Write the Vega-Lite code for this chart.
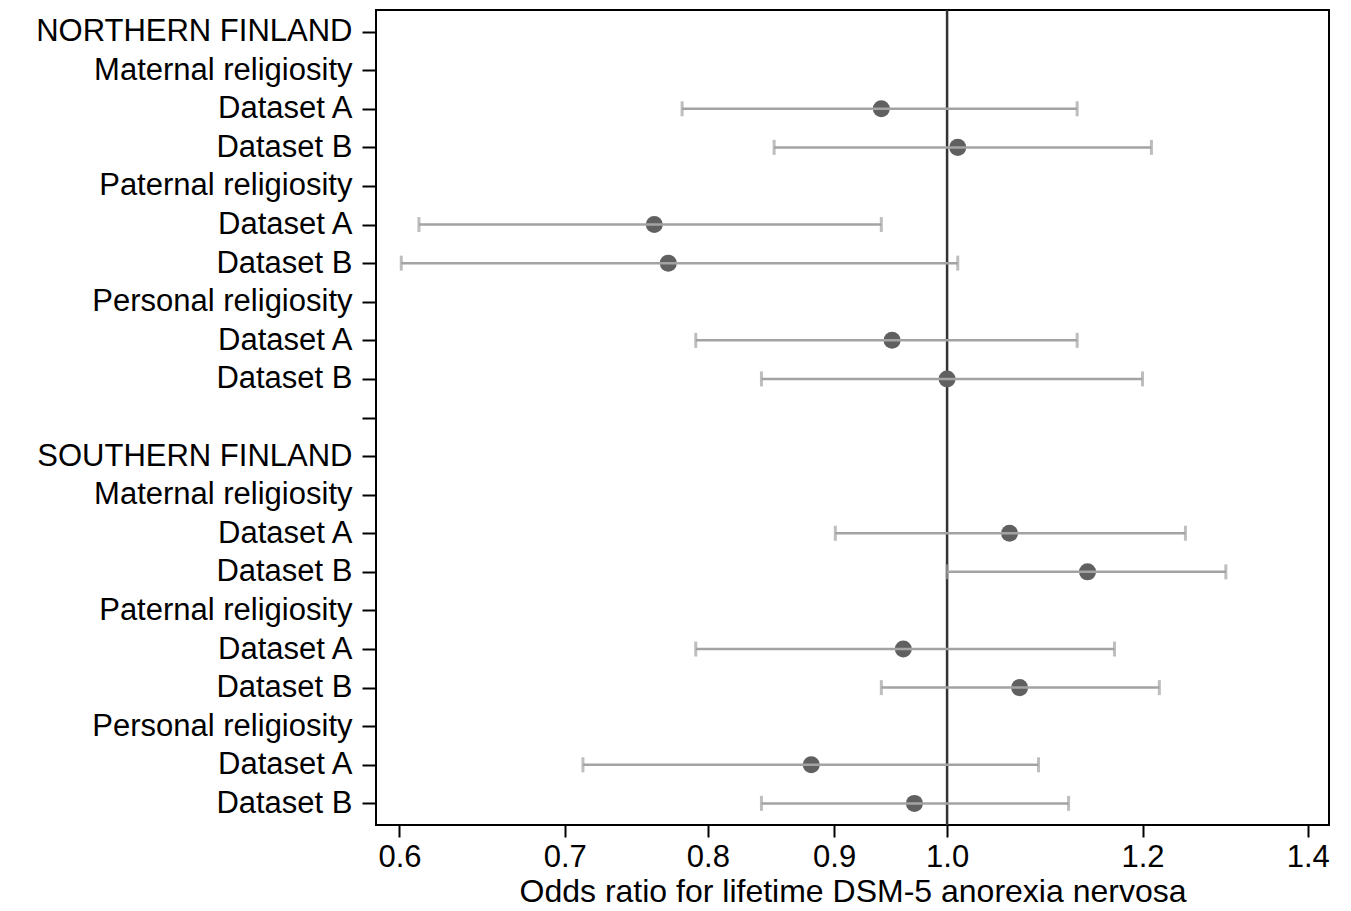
{
  "$schema": "https://vega.github.io/schema/vega-lite/v6.json",
  "width": 953,
  "height": 815,
  "padding": {"left": 0, "top": 8, "right": 22, "bottom": 0},
  "background": "white",
  "config": {
    "view": {"stroke": "#000000", "strokeWidth": 2},
    "font": "Liberation Sans"
  },
  "data": {
    "values": [
      {"row": 2, "or": 0.9405, "lo": 0.781, "hi": 1.129},
      {"row": 3, "or": 1.010, "lo": 0.851, "hi": 1.210},
      {"row": 5, "or": 0.761, "lo": 0.611, "hi": 0.9405},
      {"row": 6, "or": 0.771, "lo": 0.601, "hi": 1.010},
      {"row": 8, "or": 0.950, "lo": 0.791, "hi": 1.129},
      {"row": 9, "or": 1.000, "lo": 0.841, "hi": 1.200},
      {"row": 13, "or": 1.060, "lo": 0.901, "hi": 1.249},
      {"row": 14, "or": 1.140, "lo": 1.000, "hi": 1.297},
      {"row": 16, "or": 0.960, "lo": 0.791, "hi": 1.169},
      {"row": 17, "or": 1.070, "lo": 0.9405, "hi": 1.219},
      {"row": 19, "or": 0.881, "lo": 0.712, "hi": 1.089},
      {"row": 20, "or": 0.970, "lo": 0.841, "hi": 1.120}
    ]
  },
  "layer": [
    {
      "data": {"values": [{"ref": 1}]},
      "mark": {"type": "rule", "color": "#333333", "strokeWidth": 2.5},
      "encoding": {
        "x": {
          "field": "ref",
          "type": "quantitative",
          "scale": {"type": "log", "domain": [0.587, 1.428], "nice": false, "zero": false},
          "axis": {
            "values": [0.6, 0.7, 0.8, 0.9, 1.0, 1.2, 1.4],
            "format": ".1f",
            "labelFontSize": 31,
            "labelColor": "#000000",
            "labelFlush": false,
            "labelPadding": 5,
            "tickSize": 12,
            "tickWidth": 2,
            "tickColor": "#000000",
            "domain": false,
            "grid": false,
            "title": "Odds ratio for lifetime DSM-5 anorexia nervosa",
            "titleFontSize": 32,
            "titleFontWeight": "normal",
            "titleColor": "#000000",
            "titlePadding": 4
          }
        }
      }
    },
    {
      "mark": {"type": "circle", "color": "#606060", "opacity": 1, "size": 290},
      "encoding": {
        "x": {"field": "or", "type": "quantitative", "scale": {"type": "log", "domain": [0.587, 1.428], "nice": false, "zero": false}},
        "y": {
          "field": "row",
          "type": "ordinal",
          "scale": {"type": "point", "domain": [0,1,2,3,4,5,6,7,8,9,10,11,12,13,14,15,16,17,18,19,20], "padding": 0.56},
          "axis": {
            "labelExpr": "['NORTHERN FINLAND','Maternal religiosity','Dataset A','Dataset B','Paternal religiosity','Dataset A','Dataset B','Personal religiosity','Dataset A','Dataset B','','SOUTHERN FINLAND','Maternal religiosity','Dataset A','Dataset B','Paternal religiosity','Dataset A','Dataset B','Personal religiosity','Dataset A','Dataset B'][datum.value]",
            "labelFontSize": 31,
            "labelColor": "#000000",
            "labelLimit": 400,
            "labelPadding": 10,
            "tickSize": 14,
            "tickWidth": 2,
            "tickColor": "#000000",
            "domain": false,
            "grid": false,
            "title": null,
            "minExtent": 376,
            "maxExtent": 376
          }
        }
      }
    },
    {
      "mark": {"type": "rule", "color": "#a3a3a3", "strokeWidth": 2.5},
      "encoding": {
        "x": {"field": "lo", "type": "quantitative"},
        "x2": {"field": "hi"},
        "y": {"field": "row", "type": "ordinal"}
      }
    },
    {
      "mark": {"type": "tick", "color": "#a3a3a3", "thickness": 3, "size": 15, "orient": "vertical"},
      "encoding": {
        "x": {"field": "lo", "type": "quantitative"},
        "y": {"field": "row", "type": "ordinal"}
      }
    },
    {
      "mark": {"type": "tick", "color": "#a3a3a3", "thickness": 3, "size": 15, "orient": "vertical"},
      "encoding": {
        "x": {"field": "hi", "type": "quantitative"},
        "y": {"field": "row", "type": "ordinal"}
      }
    }
  ]
}
